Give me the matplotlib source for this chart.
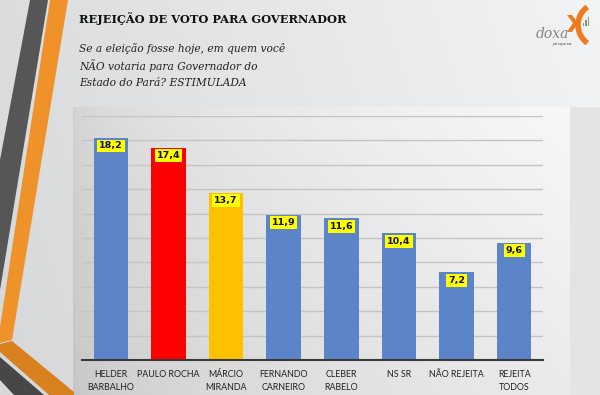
import numpy as np
import matplotlib
matplotlib.use("Agg")
import matplotlib.pyplot as plt
from matplotlib.patches import Polygon, Rectangle, Arc

categories = ["HELDER\nBARBALHO", "PAULO ROCHA", "MÁRCIO\nMIRANDA", "FERNANDO\nCARNEIRO",
              "CLEBER\nRABELO", "NS SR", "NÃO REJEITA", "REJEITA\nTODOS"]
values = [18.2, 17.4, 13.7, 11.9, 11.6, 10.4, 7.2, 9.6]
labels = ["18,2", "17,4", "13,7", "11,9", "11,6", "10,4", "7,2", "9,6"]
colors = ["#5b84c9", "#ff0000", "#ffc000", "#5b84c9", "#5b84c9", "#5b84c9", "#5b84c9", "#5b84c9"]

title = "REJEIÇÃO DE VOTO PARA GOVERNADOR"
subtitle = ["Se a eleição fosse hoje, em quem você",
            "NÃO votaria para Governador do",
            "Estado do Pará? ESTIMULADA"]

W, H = 600, 395
fig = plt.figure(figsize=(W / 100, H / 100), dpi=100)

# ---------- background layer (pixel coordinates) ----------
bg = fig.add_axes([0, 0, 1, 1])
bg.set_xlim(0, W)
bg.set_ylim(H, 0)
bg.axis("off")

xx = np.linspace(0, 1, 300)
yy = np.linspace(0, 1, 200)
X, Y = np.meshgrid(xx, yy)
base = 0.86 + 0.09 * X - 0.02 * Y
bg.imshow(np.dstack([base, base + 0.005, base + 0.01]).clip(0, 1), extent=[0, W, H, 0], aspect="auto", zorder=0)

# right strip
bg.add_patch(Rectangle((570, 107), 30, 288, facecolor="#e4e4e4", edgecolor="none", zorder=1))

# chart panel gradient
px = np.linspace(0, 1, 300)
py = np.linspace(0, 1, 200)
PX, PY = np.meshgrid(px, py)
pv = 0.82 + 0.15 * np.sqrt(PX) - 0.05 * PY
pv = pv.clip(0, 1)
bg.imshow(np.dstack([pv, pv, pv]), extent=[73, 570, 395, 107], aspect="auto", zorder=1)

# decorative stripes
dark = "#565656"
orange = "#f0922a"
bg.add_patch(Polygon([(30, 0), (48, 0), (0, 290), (0, 160)], closed=True, facecolor=dark, edgecolor="none", zorder=2))
bg.add_patch(Polygon([(50, 0), (68, 0), (12, 340), (0, 343), (0, 327)], closed=True, facecolor=orange, edgecolor="none", zorder=2))
bg.add_patch(Polygon([(0, 344), (12, 341), (74, 392), (74, 395), (49, 395), (0, 352)], closed=True, facecolor="#d9801f", edgecolor="none", zorder=2))
bg.add_patch(Polygon([(0, 357), (44, 395), (14, 395), (0, 380)], closed=True, facecolor="#474747", edgecolor="none", zorder=2))

# logo
bg.text(552, 34, "doxa", fontsize=10, style="italic", color="#858585", family="DejaVu Serif",
        ha="center", va="center", zorder=3)
bg.text(562, 44, "pesquisa", fontsize=3.2, color="#555555", ha="center", va="center", zorder=3)
bg.add_patch(Polygon([(567, 15), (572, 15), (578, 23), (572, 32), (567, 32), (573, 23)], closed=True,
                     facecolor="#f07a1e", edgecolor="none", zorder=3))
bg.add_patch(Arc((600, 25), 44, 44, theta1=125, theta2=235, color="#f07a1e", lw=4, zorder=3))
for bx, bh, bc in [(583, 3, "#77aa33"), (585.3, 6, "#888888"), (587.6, 9, "#88aa44")]:
    bg.add_patch(Rectangle((bx, 26 - bh), 1.4, bh, facecolor=bc, edgecolor="none", zorder=3))

# titles
bg.text(79, 19, title, fontsize=8.2, fontweight="bold", family="DejaVu Serif", color="#111111",
        ha="left", va="center", zorder=3)
for i, line in enumerate(subtitle):
    bg.text(79, 48 + i * 17.5, line, fontsize=7.7, style="italic", family="DejaVu Serif", color="#222222",
            ha="left", va="center", zorder=3)

# ---------- chart ----------
ax = fig.add_axes([82 / W, (H - 360) / H, 461 / W, 244 / H])
ax.patch.set_alpha(0)
x = np.arange(len(categories))
ax.bar(x, values, width=0.6, color=colors, zorder=2)
ax.set_xlim(-0.5, len(categories) - 0.5)
ax.set_ylim(0, 20)
ax.set_yticks(np.arange(0, 21, 2))
ax.yaxis.grid(True, color="#c4c4c4", lw=1, zorder=0)
ax.tick_params(axis="y", length=0, labelleft=False)
ax.tick_params(axis="x", length=0, pad=7)
ax.set_xticks(x)
ax.set_xticklabels(categories, fontsize=6.4, family="Lato", color="#222222", linespacing=1.55)
for s in ["top", "right", "left"]:
    ax.spines[s].set_visible(False)
ax.spines["bottom"].set_color("#3a3a3a")
ax.spines["bottom"].set_linewidth(1.5)

for xi, v, lab in zip(x, values, labels):
    ax.annotate(lab, (xi, v), xytext=(0, -8), textcoords="offset pixels",
                ha="center", va="center", fontsize=6.8, fontweight="bold", color="#111111",
                bbox=dict(boxstyle="square,pad=0.2", facecolor="#ffff00", edgecolor="none"), zorder=4)

fig.savefig("out.png", dpi=100)
